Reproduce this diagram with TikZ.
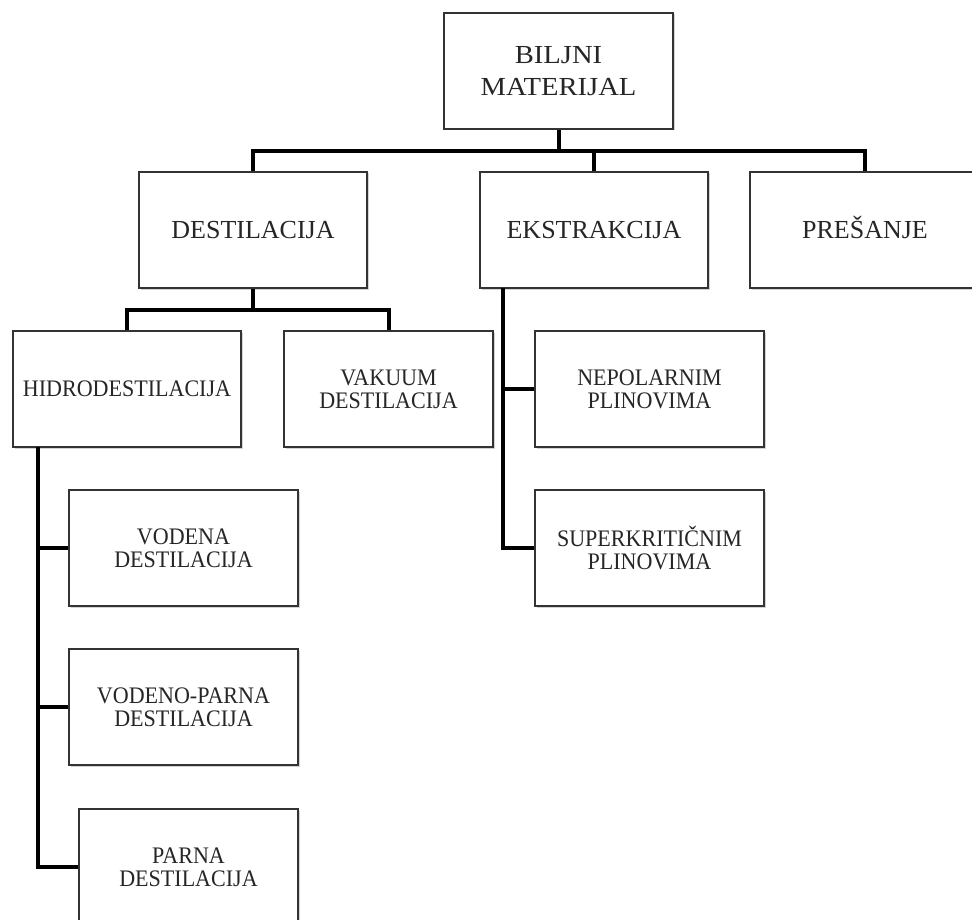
\documentclass[tikz,border=0pt]{standalone}
\usepackage{fontspec}
\setmainfont{Liberation Serif}
\newfontfamily\widefont{Liberation Serif}[FakeStretch=1.1]
\newfontfamily\narrowfont{Liberation Serif}[FakeStretch=0.93]
\usetikzlibrary{shadows}
\begin{document}
\begin{tikzpicture}[x=1pt, y=-1pt, line join=miter,
		box/.style={draw=black!80, line width=1.2pt, fill=white, text=black!85, align=center, inner sep=0pt,
			minimum width=229pt, minimum height=116pt,
			drop shadow={shadow xshift=1.5pt, shadow yshift=-1.5pt, opacity=.35}},
		topbox/.style={box, font=\widefont\fontsize{26}{32}\selectfont},
		midbox/.style={box, font=\fontsize{26}{30}\selectfont, text height=17pt, text depth=0pt},
		subbox/.style={box, font=\narrowfont\fontsize{23.7}{23}\selectfont},
		link/.style={line width=4pt, black}]
	\useasboundingbox (0,0) rectangle (972,920);
	% boxes
	\node[topbox] (bm) at (558.5,71) {BILJNI\\MATERIJAL};
	\node[midbox, minimum width=228pt] (dest) at (253,230) {DESTILACIJA};
	\node[midbox, minimum width=228pt] (ekst) at (594,230) {EKSTRAKCIJA};
	\node[midbox, minimum width=230pt] (pres) at (865,230) {PREŠANJE};
	\node[subbox, minimum width=228pt] (hidro) at (127,389) {HIDRODESTILACIJA};
	\node[subbox, minimum width=209pt] (vak) at (388.5,389) {VAKUUM\\DESTILACIJA};
	\node[subbox] (nep) at (649.5,389) {NEPOLARNIM\\PLINOVIMA};
	\node[subbox] (sup) at (649.5,548) {SUPERKRITIČNIM\\PLINOVIMA};
	\node[subbox] (vod) at (183.5,548) {VODENA\\DESTILACIJA};
	\node[subbox] (vp) at (183.5,707) {VODENO-PARNA\\DESTILACIJA};
	\node[subbox, minimum width=219pt] (parna) at (188.5,867) {PARNA\\DESTILACIJA};
	% connectors
	\coordinate (j1) at (558.5,151);
	\coordinate (j2) at (253,310);
	\coordinate (hs) at (38,447);
	\coordinate (es) at (503,288);
	\draw[link] (bm.south) -- (j1);
	\draw[link] (dest.north) |- (j1) -| (pres.north);
	\draw[link] (ekst.north) |- (j1);
	\draw[link] (dest.south) -- (j2);
	\draw[link] (hidro.north) |- (j2) -| (vak.north);
	\draw[link] (hs) |- (parna.west);
	\draw[link] (hs) |- (vod.west);
	\draw[link] (hs) |- (vp.west);
	\draw[link] (es) |- (sup.west);
	\draw[link] (es) |- (nep.west);
\end{tikzpicture}
\end{document}
